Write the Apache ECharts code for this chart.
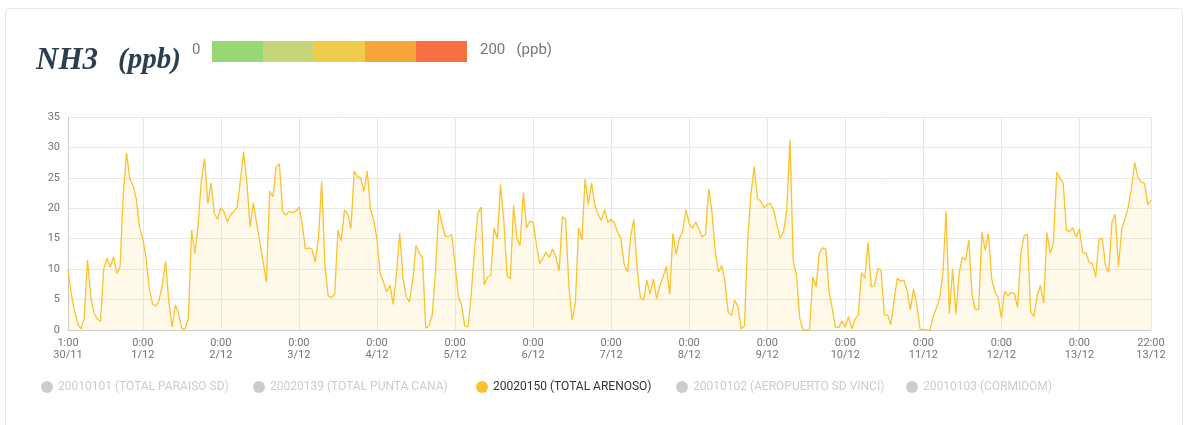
<!DOCTYPE html>
<html>
<head>
<meta charset="utf-8">
<script src="https://cdn.jsdelivr.net/npm/echarts@6/dist/echarts.min.js"></script>
<style>
  html, body { margin: 0; padding: 0; background: #ffffff; }
  #frame { position: absolute; left: 5px; top: 8px; width: 1178px; height: 440px; border: 1px solid #e9e9e9; border-radius: 4px; box-sizing: border-box; }
  #chart { position: absolute; left: 0; top: 0; width: 1191px; height: 425px; }
</style>
</head>
<body>
<div id="frame"></div>
<div id="chart"></div>
<script>
// ---- data ----
const stations = [
  '20010101 (TOTAL PARAISO SD)',
  '20020139 (TOTAL PUNTA CANA)',
  '20020150 (TOTAL ARENOSO)',
  '20010102 (AEROPUERTO SD VINCI)',
  '20010103 (CORMIDOM)'
];
const activeStation = '20020150 (TOTAL ARENOSO)';

// hourly NH3 (ppb), 30/11 1:00 -> 13/12 22:00
const arenoso = [
  10.0, 6.0, 3.2, 1.0, 0.2, 2.0, 11.5, 5.5, 2.8, 1.8, 1.4, 10.1, 11.8, 10.3, 12.0, 9.3, 10.4, 22.4, 29.1, 24.9, 23.8, 21.5, 16.9,
  15.0, 11.8, 6.8, 4.3, 3.9, 4.9, 7.4, 11.3, 4.6, 0.5, 4.1, 2.7, 0.2, 0.2, 1.9, 16.4, 12.6, 17.2, 24.6, 28.2, 20.8, 24.2, 19.1, 18.2,
  20.1, 19.4, 17.8, 18.9, 19.5, 20.1, 24.6, 29.3, 24.3, 16.9, 20.9, 17.5, 14.5, 11.2, 7.9, 22.8, 21.9, 26.8, 27.3, 19.5, 18.9, 19.5, 19.3, 19.5,
  20.2, 17.5, 13.3, 13.5, 13.3, 11.1, 15.0, 24.4, 10.7, 5.6, 5.3, 5.9, 16.4, 14.6, 19.7, 19.1, 16.7, 26.1, 25.2, 25.0, 22.8, 26.1, 20.0, 18.0,
  15.0, 9.3, 7.9, 6.3, 7.4, 4.2, 9.3, 15.9, 8.5, 5.5, 4.6, 8.2, 13.9, 12.6, 11.9, 0.3, 0.7, 2.5, 9.6, 19.8, 17.5, 15.4, 15.4, 15.7,
  10.9, 5.5, 4.1, 0.7, 0.5, 6.0, 13.1, 19.1, 20.2, 7.4, 8.7, 9.0, 16.8, 15.0, 23.9, 18.0, 8.9, 8.4, 20.5, 15.1, 13.9, 22.6, 16.8, 17.9,
  17.7, 14.2, 10.9, 11.8, 12.8, 11.9, 13.3, 12.0, 9.7, 18.6, 18.2, 7.4, 1.6, 4.4, 16.8, 14.8, 24.8, 20.6, 24.2, 20.4, 19.0, 18.0, 19.8, 17.7,
  18.2, 17.5, 16.1, 15.1, 10.8, 9.5, 15.3, 18.2, 10.1, 5.3, 4.9, 8.2, 5.9, 8.4, 5.1, 7.4, 8.7, 10.5, 5.9, 15.9, 12.4, 15.1, 16.1, 19.8,
  17.5, 16.7, 17.8, 16.6, 15.3, 15.7, 23.2, 19.4, 13.1, 9.5, 10.6, 7.9, 2.9, 2.4, 4.9, 3.8, 0.2, 0.7, 15.0, 22.4, 26.8, 21.6, 21.2, 20.1,
  20.6, 20.8, 19.7, 17.2, 15.1, 16.1, 19.7, 31.3, 11.3, 9.0, 1.9, 0, 0, 0, 8.7, 7.1, 12.6, 13.5, 13.3, 6.3, 3.6, 0.5, 0.4, 1.5,
  0.5, 2.2, 0.2, 1.8, 2.5, 9.4, 8.5, 14.4, 7.1, 7.3, 10.1, 9.8, 2.5, 2.5, 0.9, 4.9, 8.5, 8.0, 8.2, 6.6, 3.3, 6.7, 4.1, 0.2,
  0, 0, 0, 2.2, 3.6, 5.2, 9.3, 19.5, 2.7, 10.0, 2.6, 9.3, 12.0, 11.5, 14.8, 5.7, 3.4, 3.4, 16.1, 13.1, 15.9, 8.5, 6.3, 5.3,
  2.0, 6.4, 5.6, 6.2, 6.0, 3.7, 12.8, 15.5, 15.7, 3.0, 2.2, 5.7, 7.3, 4.4, 16.0, 12.6, 14.2, 25.9, 25.0, 24.1, 16.4, 16.2, 16.8, 15.3,
  16.6, 12.7, 12.6, 11.1, 10.9, 8.7, 14.9, 15.1, 10.6, 9.5, 17.8, 19.0, 10.4, 16.6, 18.3, 20.2, 23.3, 27.5, 25.0, 24.3, 24.1, 20.6, 21.3
];

// colour scale shown next to the title
const scaleBreaks = [0, 40, 80, 120, 160, 200];
const scaleColors = ['#98d774', '#c5d678', '#edcd4b', '#f6a53b', '#f77140'];
const scaleLowText = '0';
const scaleHighText = '200   (ppb)';

// hourly categories starting 30/11 1:00
const startUTC = Date.UTC(2023, 10, 30, 1, 0, 0);
const categories = arenoso.map((_, i) => {
  const d = new Date(startUTC + i * 3600000);
  return d.getUTCHours() + ':00\n' + d.getUTCDate() + '/' + (d.getUTCMonth() + 1);
});
const lastIndex = categories.length - 1;
const isTick = (idx) => idx === 0 || idx === lastIndex || categories[idx].split(':')[0] === '0';

// ---- chart ----
const chart = echarts.init(document.getElementById('chart'));
const lineColor = '#fcc22b';
const selected = {};
stations.forEach(s => { selected[s] = (s === activeStation); });

const series = stations.map(name => ({
  name: name,
  type: 'line',
  data: name === activeStation ? arenoso : [],
  showSymbol: false,
  symbol: 'circle',
  lineStyle: { width: 1.3, color: lineColor },
  itemStyle: { color: name === activeStation ? lineColor : '#cccccc' },
  areaStyle: { color: 'rgba(252,194,43,0.14)' },
  animation: false
}));
series.push({ name: 'scale', type: 'scatter', data: [], silent: true });

const scaleLabelStyle = { color: '#777777', fontSize: 15, fontWeight: 'normal', fontFamily: 'Roboto' };
const legendLefts = [41, 253, 476, 676, 906];

chart.setOption({
  animation: false,
  title: [
    {
      text: '{a|NH3}    {b|(ppb)}',
      left: 36,
      top: 45,
      padding: 0,
      textStyle: {
        rich: {
          a: { fontFamily: 'Liberation Serif', fontStyle: 'italic', fontWeight: 'bold', fontSize: 31, color: '#2c3e50' },
          b: { fontFamily: 'Liberation Serif', fontStyle: 'italic', fontWeight: 'bold', fontSize: 29, color: '#2c3e50' }
        }
      }
    },
    { text: scaleLowText, left: 192, top: 43, padding: 0, textStyle: scaleLabelStyle },
    { text: scaleHighText, left: 480, top: 43, padding: 0, textStyle: scaleLabelStyle }
  ],
  visualMap: {
    type: 'piecewise',
    seriesIndex: [series.length - 1],
    orient: 'horizontal',
    left: 212,
    top: 41,
    padding: 0,
    itemWidth: 51,
    itemHeight: 21,
    itemGap: 0,
    itemSymbol: 'rect',
    showLabel: false,
    selectedMode: false,
    hoverLink: false,
    pieces: scaleColors.map((c, i) => ({ min: scaleBreaks[i], max: scaleBreaks[i + 1], color: c }))
  },
  legend: stations.map((s, i) => ({
    data: [s],
    selected: selected,
    left: legendLefts[i],
    top: 381,
    padding: 0,
    icon: 'circle',
    itemWidth: 12,
    itemHeight: 12,
    inactiveColor: '#cccccc',
    textStyle: { color: '#333333', fontSize: 12, fontFamily: 'Roboto' }
  })),
  grid: { left: 68, right: 40, top: 117, bottom: 95 },
  xAxis: {
    type: 'category',
    data: categories,
    boundaryGap: false,
    axisLine: { lineStyle: { color: '#cccccc' } },
    axisTick: { show: false },
    axisLabel: {
      interval: (idx) => isTick(idx),
      color: '#757575',
      fontSize: 11,
      fontFamily: 'Roboto',
      lineHeight: 12,
      margin: 7,
      showMinLabel: true,
      showMaxLabel: true
    },
    splitLine: { show: true, interval: (idx) => isTick(idx), lineStyle: { color: '#e8e8e8' } }
  },
  yAxis: {
    type: 'value',
    min: 0,
    max: 35,
    interval: 5,
    axisLine: { show: true, lineStyle: { color: '#cccccc' } },
    axisTick: { show: false },
    axisLabel: { color: '#757575', fontSize: 11, fontFamily: 'Roboto', margin: 8 },
    splitLine: { lineStyle: { color: '#e8e8e8' } }
  },
  series: series
});
</script>
</body>
</html>
